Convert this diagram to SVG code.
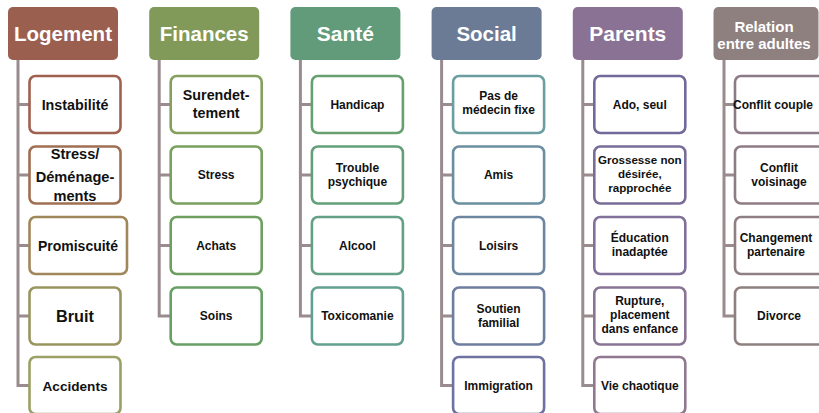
<svg xmlns="http://www.w3.org/2000/svg" width="819" height="413" viewBox="0 0 819 413">
<style>
.hd{stroke:none}
.ht{font-family:"Liberation Sans",Arial,sans-serif;font-weight:bold;fill:#ffffff;text-anchor:middle}
.bx{fill:#ffffff;stroke-width:2.6}
.t{font-family:"Liberation Sans",Arial,sans-serif;font-weight:bold;fill:#111111;text-anchor:middle;font-size:12px}
.cn{fill:none;stroke:#9a8c8e;stroke-width:3}
</style>
<rect width="819" height="413" fill="#ffffff"/>
<g id="connectors">
<path class="cn" d="M18,60 V385.5 H29 M18,104.5 H29 M18,175 H29 M18,245.5 H29 M18,316 H29"/>
<path class="cn" d="M159.2,60 V316 H170.2 M159.2,104.5 H170.2 M159.2,175 H170.2 M159.2,245.5 H170.2"/>
<path class="cn" d="M300.4,60 V316 H311.4 M300.4,104.5 H311.4 M300.4,175 H311.4 M300.4,245.5 H311.4"/>
<path class="cn" d="M441.6,60 V385.5 H452.6 M441.6,104.5 H452.6 M441.6,175 H452.6 M441.6,245.5 H452.6 M441.6,316 H452.6"/>
<path class="cn" d="M582.8,60 V385.5 H593.8 M582.8,104.5 H593.8 M582.8,175 H593.8 M582.8,245.5 H593.8 M582.8,316 H593.8"/>
<path class="cn" d="M724,60 V316 H735 M724,104.5 H735 M724,175 H735 M724,245.5 H735"/>
</g>
<g id="logement">
<rect class="hd" x="8" y="7" width="110" height="53" rx="5" fill="#9b5f50"/>
<text class="ht" x="63" y="41" font-size="20.5">Logement</text>
</g>
<g id="instabilite"><rect class="bx" x="29.5" y="76" width="91" height="57" rx="6" stroke="#a0604f"/><text class="t" x="75" y="109.5" style="font-size:14.3px">Instabilité</text></g>
<g id="stress-demenagements"><rect class="bx" x="29.5" y="146.5" width="91" height="57" rx="6" stroke="#a06f52"/><text class="t" x="75" style="font-size:14.6px"><tspan x="75" y="159">Stress/</tspan><tspan x="75" y="182">Déménage-</tspan><tspan x="75" y="201">ments</tspan></text></g>
<g id="promiscuite"><rect class="bx" x="29.5" y="217" width="97.5" height="57" rx="6" stroke="#a0875a"/><text class="t" x="78" y="250.5" style="font-size:14px">Promiscuité</text></g>
<g id="bruit"><rect class="bx" x="29.5" y="287.5" width="91" height="57" rx="6" stroke="#9a9560"/><text class="t" x="75" y="321.5" style="font-size:16.3px">Bruit</text></g>
<g id="accidents"><rect class="bx" x="29.5" y="357" width="91" height="57" rx="6" stroke="#9ba064"/><text class="t" x="75" y="391" style="font-size:13.6px">Accidents</text></g>

<g id="finances">
<rect class="hd" x="149.2" y="7" width="110" height="53" rx="5" fill="#819a5a"/>
<text class="ht" x="204.2" y="41" font-size="20.5">Finances</text>
</g>
<g id="surendettement"><rect class="bx" x="170.7" y="76" width="91" height="57" rx="6" stroke="#85a05d"/><text class="t" x="216.2" style="font-size:14.3px"><tspan x="216.2" y="100">Surendet-</tspan><tspan x="216.2" y="118">tement</tspan></text></g>
<g id="stress"><rect class="bx" x="170.7" y="146.5" width="91" height="57" rx="6" stroke="#78a05e"/><text class="t" x="216.2" y="179.2">Stress</text></g>
<g id="achats"><rect class="bx" x="170.7" y="217" width="91" height="57" rx="6" stroke="#6e9f60"/><text class="t" x="216.2" y="249.7">Achats</text></g>
<g id="soins"><rect class="bx" x="170.7" y="287.5" width="91" height="57" rx="6" stroke="#66a064"/><text class="t" x="216.2" y="320.2">Soins</text></g>

<g id="sante">
<rect class="hd" x="290.4" y="7" width="110" height="53" rx="5" fill="#619b7a"/>
<text class="ht" x="345.4" y="41" font-size="21">Santé</text>
</g>
<g id="handicap"><rect class="bx" x="311.9" y="76" width="91" height="57" rx="6" stroke="#65a06e"/><text class="t" x="357.4" y="108.7">Handicap</text></g>
<g id="trouble-psychique"><rect class="bx" x="311.9" y="146.5" width="91" height="57" rx="6" stroke="#63a07a"/><text class="t" x="357.4"><tspan x="357.4" y="172">Trouble</tspan><tspan x="357.4" y="186">psychique</tspan></text></g>
<g id="alcool"><rect class="bx" x="311.9" y="217" width="91" height="57" rx="6" stroke="#63a085"/><text class="t" x="357.4" y="249.7">Alcool</text></g>
<g id="toxicomanie"><rect class="bx" x="311.9" y="287.5" width="91" height="57" rx="6" stroke="#64a090"/><text class="t" x="357.4" y="320.2">Toxicomanie</text></g>

<g id="social">
<rect class="hd" x="431.6" y="7" width="110" height="53" rx="5" fill="#6b7b96"/>
<text class="ht" x="486.6" y="41" font-size="20.5">Social</text>
</g>
<g id="pas-de-medecin"><rect class="bx" x="453.1" y="76" width="91" height="57" rx="6" stroke="#6b9ea0"/><text class="t" x="498.6"><tspan x="498.6" y="100">Pas de</tspan><tspan x="498.6" y="114">médecin fixe</tspan></text></g>
<g id="amis"><rect class="bx" x="453.1" y="146.5" width="91" height="57" rx="6" stroke="#6b8fa0"/><text class="t" x="498.6" y="179.2">Amis</text></g>
<g id="loisirs"><rect class="bx" x="453.1" y="217" width="91" height="57" rx="6" stroke="#6d86a0"/><text class="t" x="498.6" y="249.7">Loisirs</text></g>
<g id="soutien-familial"><rect class="bx" x="453.1" y="287.5" width="91" height="57" rx="6" stroke="#6e7ea0"/><text class="t" x="498.6"><tspan x="498.6" y="312.5">Soutien</tspan><tspan x="498.6" y="326.5">familial</tspan></text></g>
<g id="immigration"><rect class="bx" x="453.1" y="357" width="91" height="57" rx="6" stroke="#6e72a0"/><text class="t" x="498.6" y="389.7">Immigration</text></g>

<g id="parents">
<rect class="hd" x="572.8" y="7" width="110" height="53" rx="5" fill="#8a7294"/>
<text class="ht" x="627.8" y="41" font-size="21">Parents</text>
</g>
<g id="ado-seul"><rect class="bx" x="594.3" y="76" width="91" height="57" rx="6" stroke="#72699a"/><text class="t" x="639.8" y="108.7">Ado, seul</text></g>
<g id="grossesse"><rect class="bx" x="594.3" y="146.5" width="91" height="57" rx="6" stroke="#7a6c98"/><text class="t" x="639.8" style="font-size:11.6px"><tspan x="639.8" y="164">Grossesse non</tspan><tspan x="639.8" y="178">désirée,</tspan><tspan x="639.8" y="192">rapprochée</tspan></text></g>
<g id="education"><rect class="bx" x="594.3" y="217" width="91" height="57" rx="6" stroke="#80709a"/><text class="t" x="639.8"><tspan x="639.8" y="242">Éducation</tspan><tspan x="639.8" y="256">inadaptée</tspan></text></g>
<g id="rupture"><rect class="bx" x="594.3" y="287.5" width="91" height="57" rx="6" stroke="#8a7495"/><text class="t" x="639.8"><tspan x="639.8" y="305">Rupture,</tspan><tspan x="639.8" y="319">placement</tspan><tspan x="639.8" y="333">dans enfance</tspan></text></g>
<g id="vie-chaotique"><rect class="bx" x="594.3" y="357" width="91" height="57" rx="6" stroke="#907890"/><text class="t" x="639.8" y="389.7">Vie chaotique</text></g>

<g id="relation">
<rect class="hd" x="713.5" y="7" width="105" height="53" rx="5" fill="#8f8080"/>
<text class="ht" font-size="15"><tspan x="764" y="32">Relation</tspan><tspan x="764" y="48.5">entre adultes</tspan></text>
</g>
<g id="conflit-couple"><rect class="bx" x="735" y="76" width="91" height="57" rx="6" stroke="#8d7a88"/><text class="t" x="773" y="108.7">Conflit couple</text></g>
<g id="conflit-voisinage"><rect class="bx" x="735" y="146.5" width="91" height="57" rx="6" stroke="#8e7c84"/><text class="t" x="779"><tspan x="779" y="172">Conflit</tspan><tspan x="779" y="186">voisinage</tspan></text></g>
<g id="changement"><rect class="bx" x="735" y="217" width="91" height="57" rx="6" stroke="#8f7e82"/><text class="t" x="776"><tspan x="776" y="242">Changement</tspan><tspan x="776" y="256">partenaire</tspan></text></g>
<g id="divorce"><rect class="bx" x="735" y="287.5" width="91" height="57" rx="6" stroke="#8f8080"/><text class="t" x="779" y="320.2">Divorce</text></g>
</svg>
